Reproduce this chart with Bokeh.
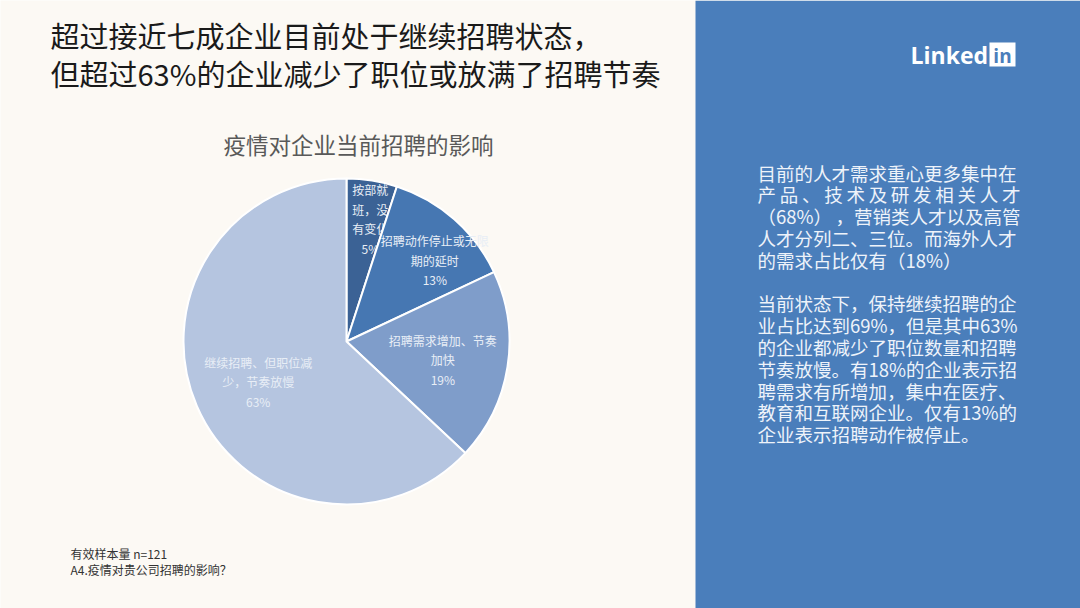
import math
from bokeh.plotting import figure
from bokeh.models import Range1d
from bokeh.core.properties import value
from bokeh.embed import file_html
from bokeh.resources import INLINE

W, H = 1080, 608

# ---------------- data ----------------
title_lines = ["超过接近七成企业目前处于继续招聘状态，",
               "但超过63%的企业减少了职位或放满了招聘节奏"]
chart_title = "疫情对企业当前招聘的影响"
categories = ["按部就班，没有变化",
              "招聘动作停止或无限期的延时",
              "招聘需求增加、节奏加快",
              "继续招聘、但职位减少，节奏放慢"]
shares = [5, 13, 19, 63]
notes = ["有效样本量 n=121", "A4.疫情对贵公司招聘的影响？"]
panel_para1 = ["目前的人才需求重心更多集中在",
               "产品、技术及研发相关人才",
               "（68%），营销类人才以及高管",
               "人才分列二、三位。而海外人才",
               "的需求占比仅有（18%）"]
panel_para2 = ["当前状态下，保持继续招聘的企",
               "业占比达到69%，但是其中63%",
               "的企业都减少了职位数量和招聘",
               "节奏放慢。有18%的企业表示招",
               "聘需求有所增加，集中在医疗、",
               "教育和互联网企业。仅有13%的",
               "企业表示招聘动作被停止。"]

# ---------------- style ----------------
BG = "#FCF9F4"
PANEL = "#4A7EBB"
slice_colors = ["#3B6295", "#4677B2", "#7F9DCA", "#B5C5E0"]
wrap = [3, 9, 9, 9]
label_r = [125, 120, 98, 97]
label_dang = [-2, -6, -1.6, 1]
CJK = value("Noto Sans CJK SC")


def Y(y):
    return H - y


p = figure(width=W, height=H, x_range=Range1d(0, W), y_range=Range1d(0, H),
           output_backend="svg", toolbar_location=None, min_border=0)
p.axis.visible = False
p.grid.visible = False
p.outline_line_color = None
p.background_fill_color = BG
p.border_fill_color = BG

# right panel
p.quad(left=[695], right=[W], bottom=[0], top=[H], fill_color=PANEL, line_color=None)

# title
for i, t in enumerate(title_lines):
    p.text(x=[50], y=[Y(34 + 38 * i)], text=[t], text_font=CJK, text_font_size="29px",
           text_color="#1A1A1A", text_baseline="middle", text_align="left")

# chart title
p.text(x=[358], y=[Y(143)], text=[chart_title], text_font=CJK, text_font_size="22.5px",
       text_color="#595959", text_baseline="middle", text_align="center")

# pie
cx, cy, R = 346, Y(341), 163
total = sum(shares)
cum = 0
for i, s in enumerate(shares):
    a0 = math.pi / 2 - 2 * math.pi * (cum + s) / total
    a1 = math.pi / 2 - 2 * math.pi * cum / total
    p.wedge(x=[cx], y=[cy], radius=R, start_angle=a0, end_angle=a1,
            direction="anticlock", fill_color=slice_colors[i],
            line_color="white", line_width=2)
    mid = (a0 + a1) / 2 + math.radians(label_dang[i])
    lx = cx + label_r[i] * math.cos(mid)
    ly = cy + label_r[i] * math.sin(mid)
    name = categories[i]
    lines = [name[k:k + wrap[i]] for k in range(0, len(name), wrap[i])]
    lines.append(f"{s}%")
    n = len(lines)
    pitch = 19.5
    for j, ln in enumerate(lines):
        yy = ly + (n - 1) / 2 * pitch - j * pitch
        p.text(x=[lx], y=[yy], text=[ln], text_font=CJK, text_font_size="12px",
               text_color="#E8EEF6", text_baseline="middle", text_align="center")
    cum += s

# notes
for i, t in enumerate(notes):
    p.text(x=[70], y=[Y(553 + 16 * i)], text=[t], text_font=CJK, text_font_size="12px",
           text_color="#333333", text_baseline="middle", text_align="left")

# panel text
PX, PY0, PP, FS, SPAN = 757, 172, 21.8, 18.5, 263
TC = "#EEF3FA"
panel_lines = panel_para1 + [""] + panel_para2
for k, t in enumerate(panel_lines):
    if not t:
        continue
    yy = Y(PY0 + PP * k)
    if k == 1:
        # distributed line
        step = (SPAN - FS) / (len(t) - 1)
        for c, ch in enumerate(t):
            p.text(x=[PX + c * step], y=[yy], text=[ch], text_font=CJK,
                   text_font_size=f"{FS}px", text_color=TC,
                   text_baseline="middle", text_align="left")
    elif k == 2:
        # justified at the comma: left part flush left, rest flush right
        cut = t.index("，")
        p.text(x=[PX], y=[yy], text=[t[:cut]], text_font=CJK,
               text_font_size=f"{FS}px", text_color=TC,
               text_baseline="middle", text_align="left")
        p.text(x=[PX + SPAN], y=[yy], text=[t[cut:]], text_font=CJK,
               text_font_size=f"{FS}px", text_color=TC,
               text_baseline="middle", text_align="right")
    else:
        p.text(x=[PX], y=[yy], text=[t], text_font=CJK, text_font_size=f"{FS}px",
               text_color=TC, text_baseline="middle", text_align="left")

# LinkedIn logo
p.text(x=[910], y=[Y(54)], text=["Linked"], text_font=value("Open Sans"),
       text_font_style="bold", text_font_size="23px", text_color="white",
       text_baseline="middle", text_align="left")
p.rect(x=[1002], y=[Y(54)], width=26, height=24, fill_color="white", line_color=None)
p.text(x=[1002], y=[Y(55)], text=["in"], text_font=value("Open Sans"),
       text_font_style="bold", text_font_size="19px", text_color=PANEL,
       text_baseline="middle", text_align="center")

open("out.html", "w").write(file_html(p, INLINE))
